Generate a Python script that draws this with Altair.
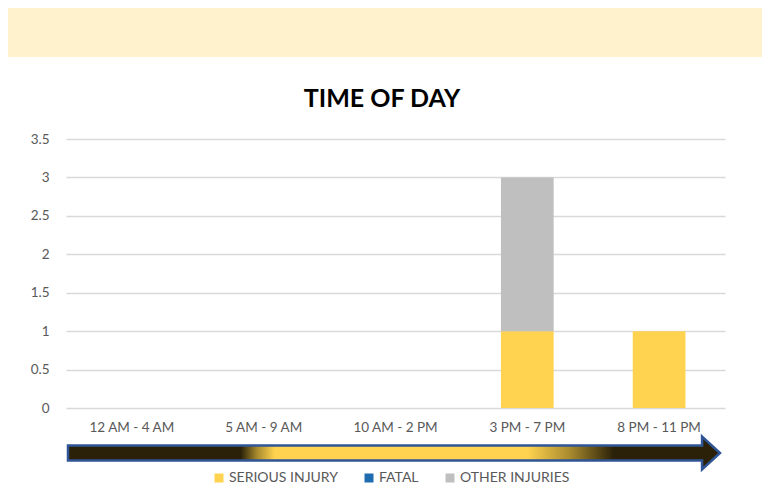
import altair as alt
import pandas as pd

# ---- data ----
categories = ["12 AM - 4 AM", "5 AM - 9 AM", "10 AM - 2 PM", "3 PM - 7 PM", "8 PM - 11 PM"]
series = ["SERIOUS INJURY", "FATAL", "OTHER INJURIES"]
serious = [0, 0, 0, 1, 1]
fatal = [0, 0, 0, 0, 0]
other = [0, 0, 0, 2, 0]
colors = ["#FFD34F", "#1F6BB0", "#BFBFBF"]
y_ticks = [0, 0.5, 1, 1.5, 2, 2.5, 3, 3.5]
title_text = "TIME OF DAY"

rows = []
for s_i, (name, vals) in enumerate(zip(series, [serious, fatal, other])):
    for c, v in zip(categories, vals):
        rows.append({"time": c, "series": name, "value": v, "ord": s_i})
df = pd.DataFrame(rows)
one = pd.DataFrame({"a": [0]})

FONT = "Lato"
LABEL_COLOR = "#595959"

bars = alt.Chart(df).mark_bar().encode(
    x=alt.X("time:N", sort=categories,
            scale=alt.Scale(paddingInner=0.6, paddingOuter=0.3),
            axis=alt.Axis(title=None, labelAngle=0, labelFontSize=13.5, labelColor=LABEL_COLOR,
                          labelFont=FONT, labelPadding=12, ticks=False, domain=False, grid=False)),
    y=alt.Y("value:Q", stack="zero",
            scale=alt.Scale(domain=[0, 3.5], nice=False),
            axis=alt.Axis(title=None, values=y_ticks, format="~g", labelFontSize=13.5,
                          labelColor=LABEL_COLOR, labelFont=FONT, labelPadding=17,
                          ticks=False, domain=False, grid=True, gridColor="#D9D9D9",
                          gridWidth=1.5)),
    color=alt.Color("series:N", scale=alt.Scale(domain=series, range=colors),
                    legend=alt.Legend(title=None, orient="none", legendX=146, legendY=332,
                                      direction="horizontal", symbolType="square",
                                      symbolSize=81, symbolStrokeWidth=0, labelFontSize=14,
                                      labelFont=FONT, labelColor=LABEL_COLOR, labelLimit=0,
                                      labelOffset=3, columnPadding=24, symbolOpacity=1)),
    order=alt.Order("ord:Q"),
)

band = alt.Chart(one).mark_rect(color="#FFF2CC").encode(
    x=alt.value(-58), x2=alt.value(696), y=alt.value(-131), y2=alt.value(-82)
)

title = alt.Chart(one).mark_text(
    text=title_text, font=FONT, fontSize=25, fontWeight="bold", color="#000000",
    align="center", baseline="middle"
).encode(x=alt.value(316), y=alt.value(-40))

arrow_path = "M-1,-0.023L0.945,-0.023L0.945,-0.0506L1,0L0.945,0.0506L0.945,0.023L-1,0.023Z"
grad = alt.LinearGradient(
    gradient="linear", x1=0, y1=0, x2=1, y2=0,
    stops=[
        alt.GradientStop(offset=0, color="#2B2108"),
        alt.GradientStop(offset=0.265, color="#2B2108"),
        alt.GradientStop(offset=0.29, color="#A88A2E"),
        alt.GradientStop(offset=0.317, color="#FFD34F"),
        alt.GradientStop(offset=0.705, color="#FFD34F"),
        alt.GradientStop(offset=0.77, color="#A88A2E"),
        alt.GradientStop(offset=0.837, color="#2B2108"),
        alt.GradientStop(offset=1, color="#2B2108"),
    ],
)
arrow = alt.Chart(one).mark_point(
    shape=arrow_path, size=652 * 652, filled=True, fill=grad, fillOpacity=1,
    stroke="#2F5597", strokeWidth=2.5, opacity=1
).encode(x=alt.value(328), y=alt.value(314))

chart = alt.layer(band, title, bars, arrow).properties(
    width=659, height=269,
    autosize=alt.AutoSizeParams(type="none"),
    padding={"left": 58, "top": 131, "right": 37, "bottom": 81},
    background="#FFFFFF",
).configure_view(stroke=None)

chart.save("out.html", embed_options={"renderer": "svg", "actions": False})
